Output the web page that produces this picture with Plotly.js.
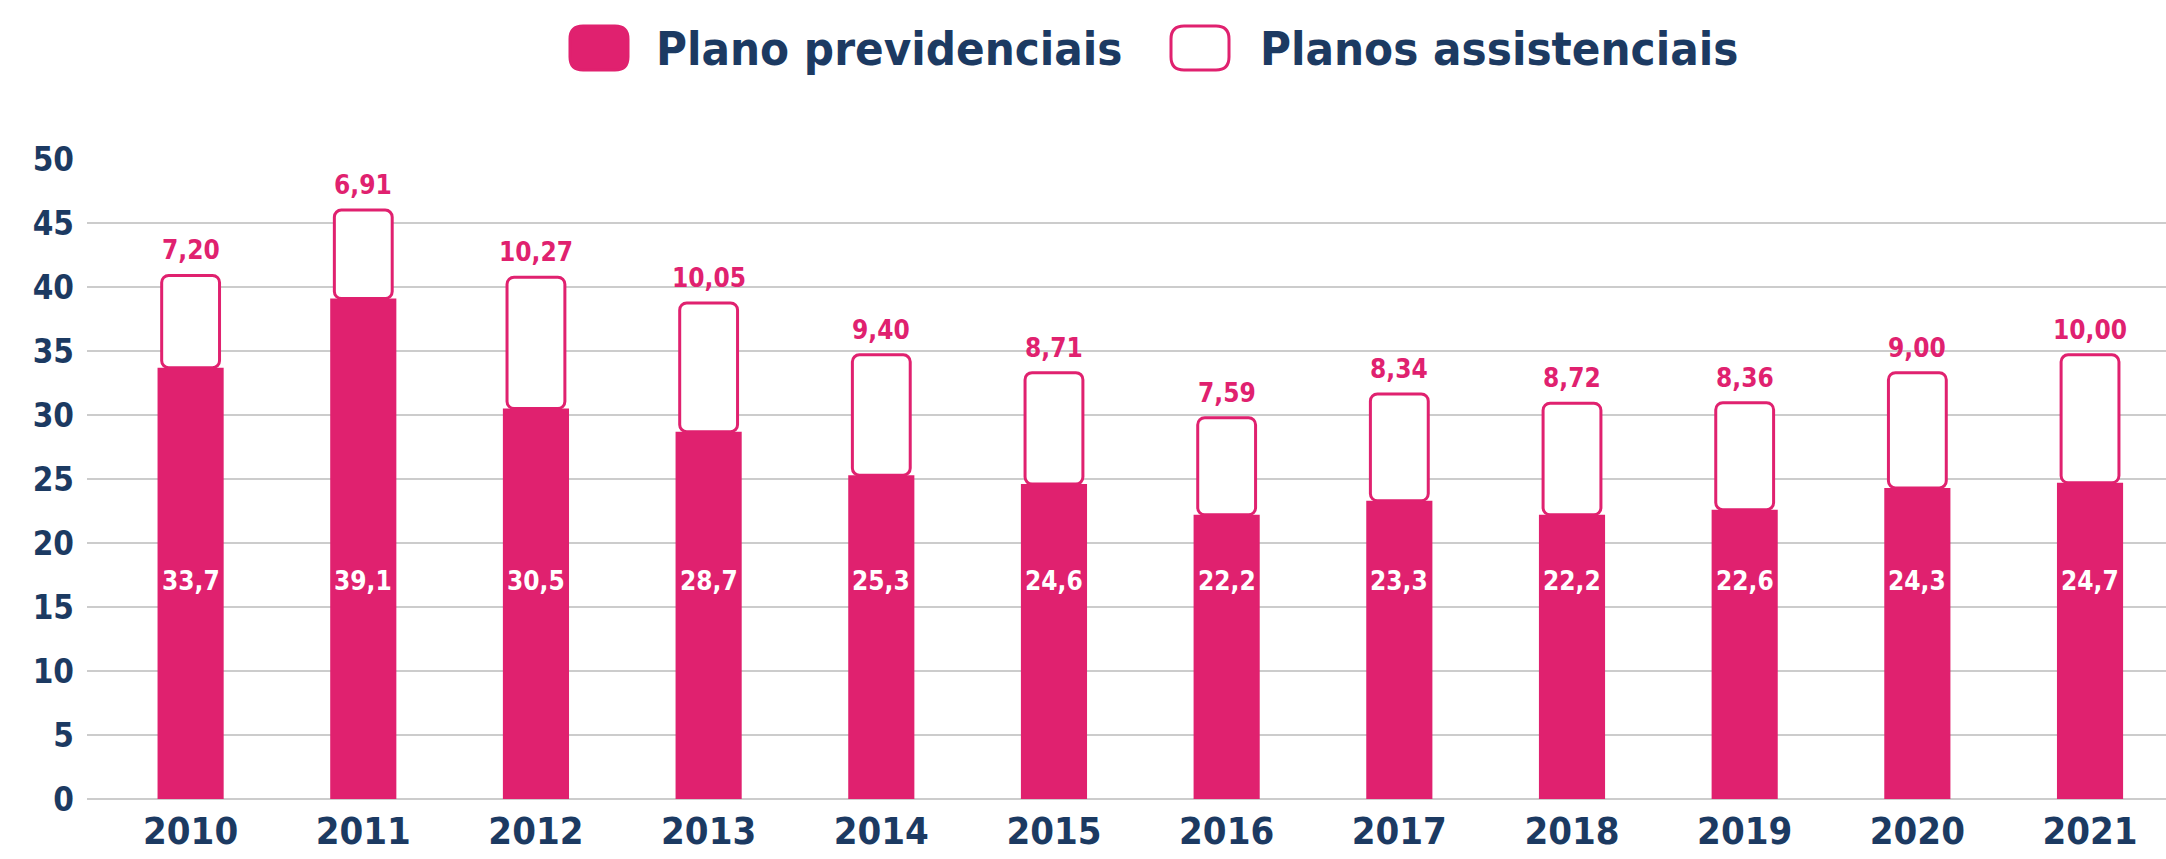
<!DOCTYPE html>
<html>
<head>
<meta charset="utf-8">
<script src="https://cdn.plot.ly/plotly-3.0.1.min.js"></script>
<style>
  html, body { margin: 0; padding: 0; background: #fff; }
  #chart { width: 2166px; height: 859px; }
</style>
</head>
<body>
<div id="chart"></div>
<script>
const years = ['2010', '2011', '2012', '2013', '2014', '2015', '2016', '2017', '2018', '2019', '2020', '2021'];
const previdenciais = [33.7, 39.1, 30.5, 28.7, 25.3, 24.6, 22.2, 23.3, 22.2, 22.6, 24.3, 24.7];
const assistenciais = [7.20, 6.91, 10.27, 10.05, 9.40, 8.71, 7.59, 8.34, 8.72, 8.36, 9.00, 10.00];
const seriesNames = ['Plano previdenciais', 'Planos assistenciais'];
const yTicks = [0, 5, 10, 15, 20, 25, 30, 35, 40, 45, 50];

const PINK = '#e0216f';
const NAVY = '#1c3a62';
const FONT = '"DejaVu Sans Condensed", "DejaVu Sans", sans-serif';

// chart size and plot margins, in px
const W = 2166, H = 859;
const M = {l: 87, r: 0, t: 159, b: 60};

function comma(v, digits) {
  return v.toFixed(digits).replace('.', ',');
}

// px -> paper coordinates
function px(x) { return (x - M.l) / (W - M.l - M.r); }
function py(y) { return (H - M.b - y) / (H - M.t - M.b); }

const tops = previdenciais.map((v, i) => v + assistenciais[i]);

const traceAssist = {
  type: 'bar',
  x: years,
  y: assistenciais,
  base: previdenciais,
  width: 0.335,
  name: seriesNames[1],
  marker: {color: '#ffffff', line: {color: PINK, width: 3}, cornerradius: 7},
  hoverinfo: 'skip',
  showlegend: false
};

const tracePrev = {
  type: 'bar',
  x: years,
  y: previdenciais,
  width: 0.383,
  name: seriesNames[0],
  marker: {color: PINK, line: {width: 0}, cornerradius: 4},
  hoverinfo: 'skip',
  showlegend: false
};

// category axis: annotations use the serial index of each year
const annotations = [];
years.forEach((yr, i) => {
  annotations.push({
    x: i, y: tops[i], xref: 'x', yref: 'y',
    text: comma(assistenciais[i], 2),
    showarrow: false, yanchor: 'bottom', yshift: 8,
    font: {family: FONT, size: 26, color: PINK, weight: 'bold'}
  });
  annotations.push({
    x: i, y: 17, xref: 'x', yref: 'y',
    text: comma(previdenciais[i], 1),
    showarrow: false, yanchor: 'middle',
    font: {family: FONT, size: 26, color: '#ffffff', weight: 'bold'}
  });
});

// legend drawn by hand: rounded boxes + labels
const box = 'M -16,-22 L 16,-22 Q 29,-22 29,-9 L 29,9 Q 29,22 16,22 L -16,22 Q -29,22 -29,9 L -29,-9 Q -29,-22 -16,-22 Z';
const shapes = [
  {type: 'path', xref: 'paper', yref: 'paper', xsizemode: 'pixel', ysizemode: 'pixel',
   xanchor: px(599), yanchor: py(48), path: box,
   fillcolor: PINK, line: {color: PINK, width: 3}},
  {type: 'path', xref: 'paper', yref: 'paper', xsizemode: 'pixel', ysizemode: 'pixel',
   xanchor: px(1200), yanchor: py(48), path: box,
   fillcolor: '#ffffff', line: {color: PINK, width: 3}}
];
annotations.push({
  xref: 'paper', yref: 'paper', x: px(654), y: py(48),
  xanchor: 'left', yanchor: 'middle', showarrow: false,
  text: seriesNames[0],
  font: {family: FONT, size: 47, color: NAVY, weight: 'bold'}
});
annotations.push({
  xref: 'paper', yref: 'paper', x: px(1258), y: py(48),
  xanchor: 'left', yanchor: 'middle', showarrow: false,
  text: seriesNames[1],
  font: {family: FONT, size: 47, color: NAVY, weight: 'bold'}
});

const layout = {
  width: W,
  height: H,
  margin: M,
  paper_bgcolor: '#ffffff',
  plot_bgcolor: '#ffffff',
  barmode: 'overlay',
  showlegend: false,
  xaxis: {
    type: 'category',
    range: [-0.6, 11.44],
    showgrid: false,
    zeroline: false,
    showline: false,
    ticks: '',
    ticklabelstandoff: 6,
    tickfont: {family: FONT, size: 38, color: NAVY, weight: 'bold'}
  },
  yaxis: {
    range: [0, 50],
    tickvals: yTicks,
    ticktext: yTicks.map(String),
    showgrid: true,
    gridcolor: '#cccccc',
    gridwidth: 1.5,
    zeroline: true,
    zerolinecolor: '#cccccc',
    zerolinewidth: 1.5,
    showline: false,
    ticks: '',
    ticklabelstandoff: 12,
    tickfont: {family: FONT, size: 33, color: NAVY, weight: 'bold'}
  },
  annotations: annotations,
  shapes: shapes
};

Plotly.newPlot('chart', [traceAssist, tracePrev], layout, {staticPlot: true, displayModeBar: false});
</script>
</body>
</html>
